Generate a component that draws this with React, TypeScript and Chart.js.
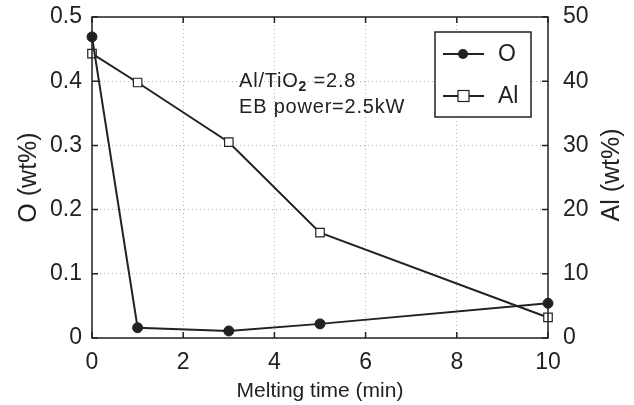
import React, { useEffect, useRef } from "react";
import { Chart, registerables } from "chart.js";

Chart.register(...registerables);

const meltingTime = [0, 1, 3, 5, 10];
const oxygenWt = [0.469, 0.016, 0.011, 0.022, 0.054];
const aluminumWt = [44.3, 39.8, 30.5, 16.4, 3.2];
const xTicks = [0, 2, 4, 6, 8, 10];
const annotationLines = ["Al/TiO", "EB power=2.5kW"];

const FONT = "'Liberation Sans', Arial, Helvetica, sans-serif";

const framePlugin = {
  id: "frame",
  afterDraw(chart: any) {
    const { ctx, chartArea } = chart;
    const { left, right, top, bottom } = chartArea;
    const sx = chart.scales.x;
    const sy = chart.scales.y;
    const sy1 = chart.scales.y1;
    ctx.save();
    ctx.strokeStyle = "#222";
    ctx.lineWidth = 1.5;
    ctx.beginPath();
    sy.ticks.forEach((t: any) => {
      const p = sy.getPixelForValue(t.value);
      ctx.moveTo(left, p);
      ctx.lineTo(left + 6, p);
    });
    sy1.ticks.forEach((t: any) => {
      const p = sy1.getPixelForValue(t.value);
      ctx.moveTo(right, p);
      ctx.lineTo(right - 6, p);
    });
    sx.ticks.forEach((t: any) => {
      const p = sx.getPixelForValue(t.value);
      ctx.moveTo(p, bottom);
      ctx.lineTo(p, bottom - 6);
      ctx.moveTo(p, top);
      ctx.lineTo(p, top + 6);
    });
    ctx.stroke();
    ctx.strokeRect(left, top, right - left, bottom - top);

    ctx.fillStyle = "#222";
    ctx.font = `25px ${FONT}`;
    ctx.textAlign = "center";
    ctx.textBaseline = "middle";
    ctx.save();
    ctx.translate(612, 175);
    ctx.rotate(-Math.PI / 2);
    ctx.fillText("Al (wt%)", 0, 0);
    ctx.restore();

    ctx.textAlign = "left";
    ctx.textBaseline = "alphabetic";
    (ctx as any).letterSpacing = "0.8px";
    ctx.font = `20px ${FONT}`;
    const ax = 239;
    const ay = 87;
    ctx.fillText(annotationLines[0], ax, ay);
    let w = ctx.measureText(annotationLines[0]).width;
    ctx.font = `bold 14px ${FONT}`;
    ctx.fillText("2", ax + w, ay + 4);
    w += ctx.measureText("2").width;
    ctx.font = `20px ${FONT}`;
    ctx.fillText(" =2.8", ax + w, ay);
    ctx.fillText(annotationLines[1], ax, ay + 26);
    (ctx as any).letterSpacing = "0px";

    ctx.lineWidth = 1.5;
    ctx.fillStyle = "#fff";
    ctx.fillRect(435, 32, 96, 85);
    ctx.strokeRect(435, 32, 96, 85);
    const rows = [54, 96];
    chart.data.datasets.forEach((ds: any, i: number) => {
      const y = rows[i];
      ctx.strokeStyle = "#222";
      ctx.lineWidth = 2;
      ctx.beginPath();
      ctx.moveTo(443, y);
      ctx.lineTo(484, y);
      ctx.stroke();
      ctx.lineWidth = 1.2;
      if (ds.pointStyle === "rect") {
        ctx.fillStyle = "#fff";
        ctx.fillRect(458, y - 5.5, 11, 11);
        ctx.strokeRect(458, y - 5.5, 11, 11);
      } else {
        ctx.fillStyle = "#222";
        ctx.beginPath();
        ctx.arc(463, y, 5, 0, Math.PI * 2);
        ctx.fill();
      }
      ctx.fillStyle = "#222";
      ctx.font = `23px ${FONT}`;
      ctx.textBaseline = "middle";
      ctx.fillText(ds.label, 498, y + 1);
    });
    ctx.restore();
  },
};

export default function App() {
  const ref = useRef<HTMLCanvasElement | null>(null);
  useEffect(() => {
    if (!ref.current) return;
    const gridCommon = {
      color: "#b0b0b0",
      lineWidth: 1,
      drawTicks: false,
    };
    const chart = new Chart(ref.current, {
      type: "line",
      data: {
        datasets: [
          {
            label: "O",
            data: meltingTime.map((t, i) => ({ x: t, y: oxygenWt[i] })),
            yAxisID: "y",
            borderColor: "#222",
            borderWidth: 2,
            pointStyle: "circle",
            pointRadius: 5,
            pointBackgroundColor: "#222",
            pointBorderColor: "#222",
            pointBorderWidth: 1,
          },
          {
            label: "Al",
            data: meltingTime.map((t, i) => ({ x: t, y: aluminumWt[i] })),
            yAxisID: "y1",
            borderColor: "#222",
            borderWidth: 2,
            pointStyle: "rect",
            pointRadius: 6,
            pointBackgroundColor: "#fff",
            pointBorderColor: "#222",
            pointBorderWidth: 1.2,
          },
        ],
      },
      options: {
        animation: false,
        responsive: false,
        clip: false as any,
        layout: { padding: { top: 17, left: 0, right: 0, bottom: 0 } },
        plugins: { legend: { display: false }, tooltip: { enabled: false } },
        scales: {
          x: {
            type: "linear",
            min: 0,
            max: 10,
            afterBuildTicks: (s: any) => {
              s.ticks = xTicks.map((v) => ({ value: v }));
            },
            afterFit: (s: any) => {
              s.height = 67;
              s.paddingLeft = 0;
              s.paddingRight = 0;
            },
            grid: gridCommon,
            border: { display: false, dash: [1, 3] },
            ticks: { color: "#222", font: { family: FONT, size: 23 }, padding: 11 },
            title: {
              display: true,
              text: "Melting time (min)",
              color: "#222",
              font: { family: FONT, size: 21 },
              padding: { top: 0, bottom: 1 },
            },
          },
          y: {
            type: "linear",
            position: "left",
            min: 0,
            max: 0.5,
            ticks: {
              stepSize: 0.1,
              color: "#222",
              font: { family: FONT, size: 23 },
              padding: 10,
            },
            afterFit: (s: any) => {
              s.width = 92;
              s.paddingTop = 0;
              s.paddingBottom = 0;
            },
            grid: gridCommon,
            border: { display: false, dash: [1, 3] },
            title: {
              display: true,
              text: "O (wt%)",
              color: "#222",
              font: { family: FONT, size: 25 },
              padding: { top: 14, bottom: 0 },
            },
          },
          y1: {
            type: "linear",
            position: "right",
            min: 0,
            max: 50,
            ticks: {
              stepSize: 10,
              color: "#222",
              font: { family: FONT, size: 23 },
              padding: 7,
            },
            afterFit: (s: any) => {
              s.width = 86;
              s.paddingTop = 0;
              s.paddingBottom = 0;
            },
            grid: { display: false },
            border: { display: false },
          },
        },
      },
      plugins: [framePlugin],
    } as any);
    return () => chart.destroy();
  }, []);
  return (
    <div style={{ position: "fixed", left: 0, top: 0, width: 634, height: 405, background: "#fff" }}>
      <canvas ref={ref} width={634} height={405} />
    </div>
  );
}
